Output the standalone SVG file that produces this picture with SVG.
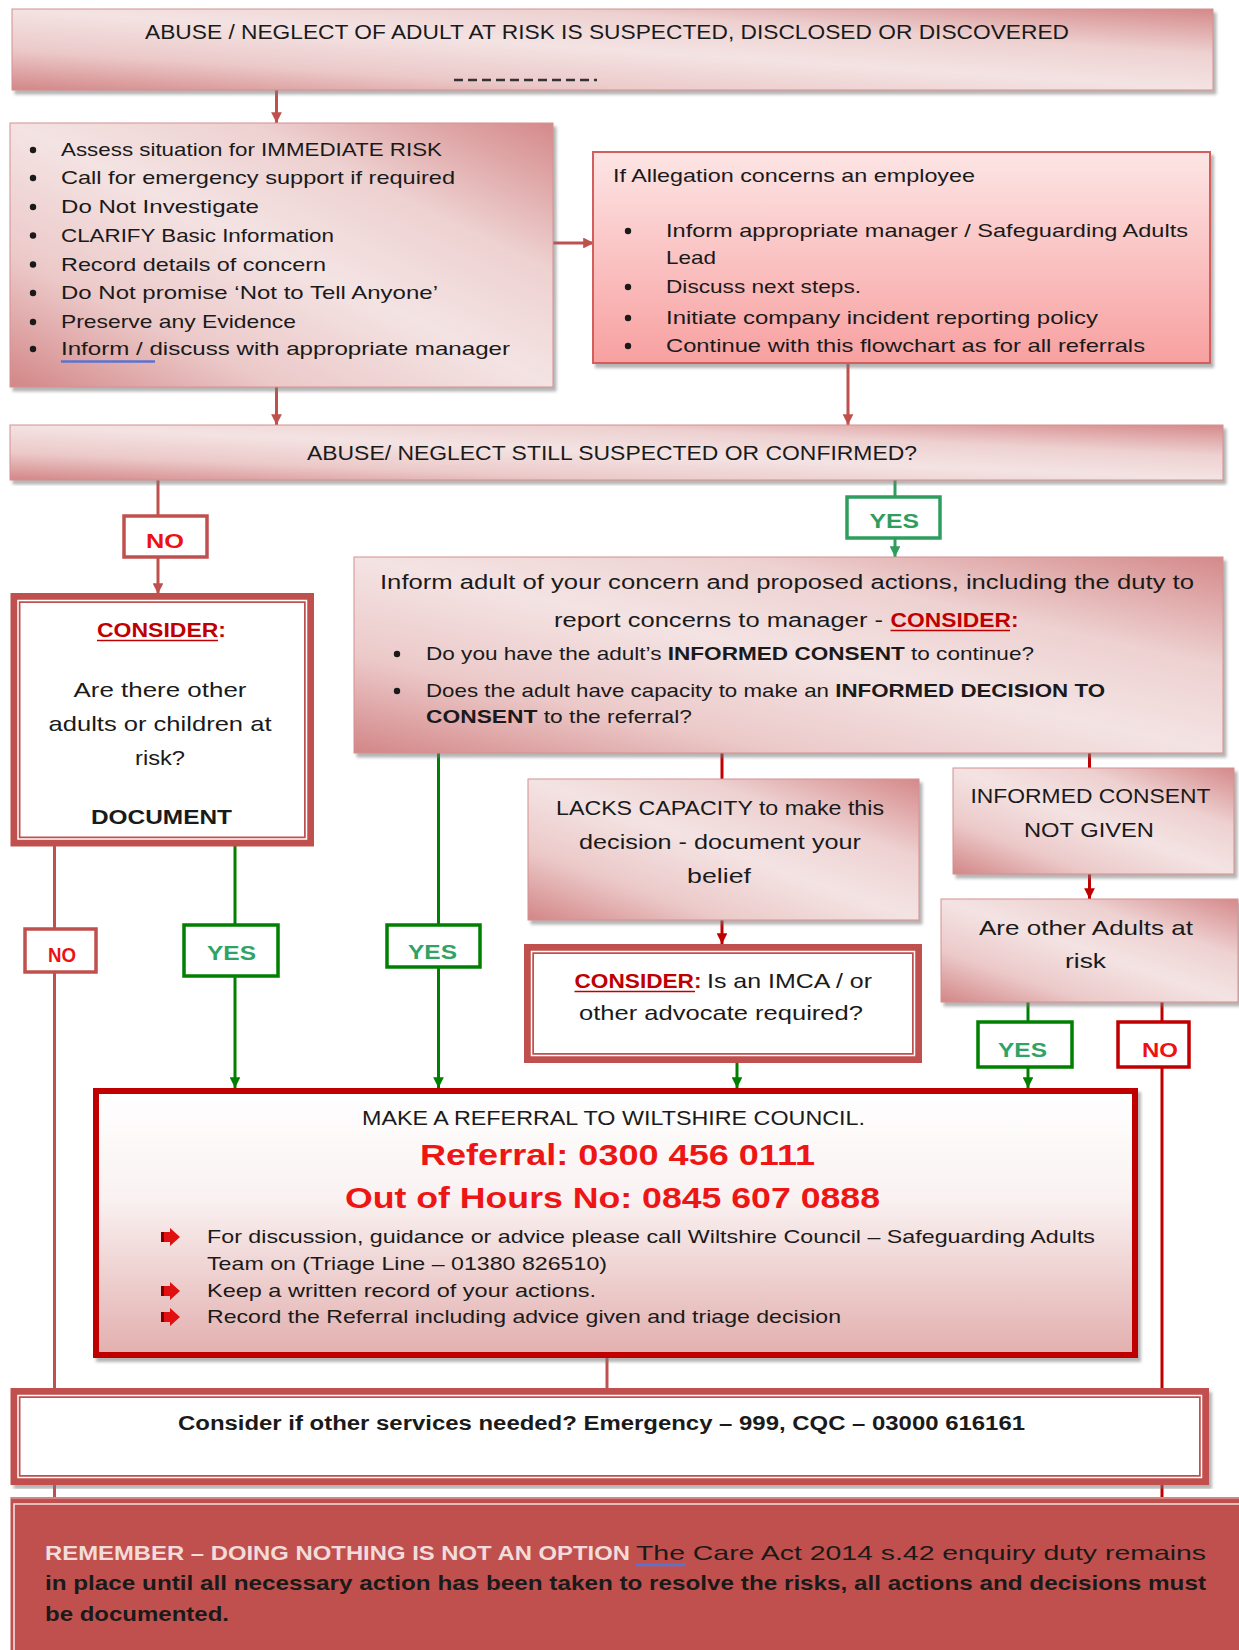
<svg xmlns="http://www.w3.org/2000/svg" width="1239" height="1650" viewBox="0 0 1239 1650">
<style>
.t{font-family:"Liberation Sans",Arial,sans-serif;fill:#1a1a1a}
.b{font-weight:bold}
.red{fill:#c00000}
.lbl{font-family:"Liberation Sans",Arial,sans-serif;font-weight:bold;font-size:20px}
.yes{fill:#2fa365}
.no{fill:#ee1111}
.pink{fill:url(#gPink);stroke:#d49090;stroke-width:1}
.c1{fill:none;stroke:#c0504d;stroke-width:3}
.c2{fill:none;stroke:#c00000;stroke-width:3}
.cg{fill:none;stroke:#008000;stroke-width:3}
.ct{fill:none;stroke:#2e9e5e;stroke-width:3}
.dbl{fill:#fff;stroke:#c0504d;stroke-width:10}
.dblin{fill:none;stroke:#fff;stroke-width:1.5}
.ul{stroke:#c00000;stroke-width:1.6}
</style>
<defs>
<linearGradient id="gPink" x1="1" y1="0" x2="0" y2="1">
<stop offset="0" stop-color="#d5898a"/>
<stop offset="0.28" stop-color="#eed1d1"/>
<stop offset="0.5" stop-color="#f4e3e3"/>
<stop offset="0.75" stop-color="#ecc9c9"/>
<stop offset="1" stop-color="#d38687"/>
</linearGradient>
<linearGradient id="gBox3" x1="0" y1="0" x2="0" y2="1">
<stop offset="0" stop-color="#fde5e5"/>
<stop offset="1" stop-color="#f8a0a0"/>
</linearGradient>
<linearGradient id="gRef" x1="0" y1="0" x2="0" y2="1">
<stop offset="0" stop-color="#ffffff"/>
<stop offset="0.4" stop-color="#faf2f2"/>
<stop offset="1" stop-color="#e2afae"/>
</linearGradient>
<filter id="sh" x="-3%" y="-5%" width="106%" height="115%">
<feDropShadow dx="3" dy="4" stdDeviation="1.5" flood-color="#777" flood-opacity="0.55"/>
</filter>
<marker id="a1" viewBox="0 0 10 10" refX="10" refY="5" markerWidth="3.6" markerHeight="3.6" orient="auto"><path d="M0,0 L10,5 L0,10 z" fill="#c0504d"/></marker>
<marker id="a2" viewBox="0 0 10 10" refX="10" refY="5" markerWidth="3.6" markerHeight="3.6" orient="auto"><path d="M0,0 L10,5 L0,10 z" fill="#c00000"/></marker>
<marker id="ag" viewBox="0 0 10 10" refX="10" refY="5" markerWidth="3.6" markerHeight="3.6" orient="auto"><path d="M0,0 L10,5 L0,10 z" fill="#008000"/></marker>
<marker id="at" viewBox="0 0 10 10" refX="10" refY="5" markerWidth="3.6" markerHeight="3.6" orient="auto"><path d="M0,0 L10,5 L0,10 z" fill="#2e9e5e"/></marker>
</defs>
<rect width="1239" height="1650" fill="#fff"/>

<g id="connectors">
<path class="c1" d="M276.5,90 V123" marker-end="url(#a1)"/>
<path class="c1" d="M553,243 H594" marker-end="url(#a1)"/>
<path class="c1" d="M276.5,387 V425" marker-end="url(#a1)"/>
<path class="c1" d="M848,363 V425" marker-end="url(#a1)"/>
<path class="c1" d="M158,480 V516"/>
<path class="c1" d="M158,557 V594" marker-end="url(#a1)"/>
<path class="c1" d="M54.5,846 V929"/>
<path class="c1" d="M54.5,972 V1388"/>
<path class="c1" d="M54.5,1485 V1512"/>
<path class="c1" d="M607,1358 V1388"/>
<path class="ct" d="M895,480 V497"/>
<path class="ct" d="M895,538 V557" marker-end="url(#at)"/>
<path class="cg" d="M235,846 V925"/>
<path class="cg" d="M235,976 V1088" marker-end="url(#ag)"/>
<path class="cg" d="M438.5,753 V925"/>
<path class="cg" d="M438.5,967 V1088" marker-end="url(#ag)"/>
<path class="cg" d="M737,1063 V1088" marker-end="url(#ag)"/>
<path class="cg" d="M1028,1002 V1022"/>
<path class="cg" d="M1028,1067 V1088" marker-end="url(#ag)"/>
<path class="c2" d="M722,753 V779"/>
<path class="c2" d="M722,920 V944" marker-end="url(#a2)"/>
<path class="c2" d="M1089.5,753 V768"/>
<path class="c2" d="M1089.5,874 V899" marker-end="url(#a2)"/>
<path class="c2" d="M1162,993 V1022"/>
<path class="c2" d="M1162,1067 V1388"/>
<path class="c2" d="M1162,1485 V1512"/>
</g>

<g id="n-top">
<rect class="pink" x="12" y="9" width="1201" height="81" filter="url(#sh)"/>
<text class="t" x="145" y="39" font-size="20" textLength="924" lengthAdjust="spacingAndGlyphs">ABUSE / NEGLECT OF ADULT AT RISK IS SUSPECTED, DISCLOSED OR DISCOVERED</text>
<line x1="454" y1="80" x2="597" y2="80" stroke="#333" stroke-width="2.5" stroke-dasharray="9,5"/>
</g>

<g id="n-immediate">
<rect class="pink" x="10" y="123" width="543" height="264" filter="url(#sh)"/>
<g fill="#1a1a1a">
<circle cx="33" cy="150" r="3.2"/><circle cx="33" cy="178" r="3.2"/><circle cx="33" cy="207" r="3.2"/><circle cx="33" cy="235.5" r="3.2"/>
<circle cx="33" cy="264.5" r="3.2"/><circle cx="33" cy="293" r="3.2"/><circle cx="33" cy="322" r="3.2"/><circle cx="33" cy="349" r="3.2"/>
</g>
<g class="t" font-size="18.5">
<text x="61" y="156" textLength="381" lengthAdjust="spacingAndGlyphs">Assess situation for IMMEDIATE RISK</text>
<text x="61" y="184" textLength="394" lengthAdjust="spacingAndGlyphs">Call for emergency support if required</text>
<text x="61" y="213" textLength="198" lengthAdjust="spacingAndGlyphs">Do Not Investigate</text>
<text x="61" y="241.5" textLength="273" lengthAdjust="spacingAndGlyphs">CLARIFY Basic Information</text>
<text x="61" y="270.5" textLength="265" lengthAdjust="spacingAndGlyphs">Record details of concern</text>
<text x="61" y="299" textLength="377" lengthAdjust="spacingAndGlyphs">Do Not promise ‘Not to Tell Anyone’</text>
<text x="61" y="328" textLength="235" lengthAdjust="spacingAndGlyphs">Preserve any Evidence</text>
<text x="61" y="355" textLength="449" lengthAdjust="spacingAndGlyphs">Inform  / discuss with appropriate manager</text>
</g>
<line x1="61" y1="361.5" x2="155" y2="361.5" stroke="#5b73cf" stroke-width="2.5"/>
</g>

<g id="n-employee">
<rect x="593" y="152" width="617" height="211" fill="url(#gBox3)" stroke="#d35f5d" stroke-width="2" filter="url(#sh)"/>
<g fill="#1a1a1a">
<circle cx="628" cy="231" r="3.2"/><circle cx="628" cy="287" r="3.2"/><circle cx="628" cy="318" r="3.2"/><circle cx="628" cy="346" r="3.2"/>
</g>
<g class="t" font-size="18.5">
<text x="613" y="181.5" textLength="362" lengthAdjust="spacingAndGlyphs">If Allegation concerns an employee</text>
<text x="666" y="237" textLength="522" lengthAdjust="spacingAndGlyphs">Inform appropriate manager / Safeguarding Adults</text>
<text x="666" y="264" textLength="50" lengthAdjust="spacingAndGlyphs">Lead</text>
<text x="666" y="293" textLength="195" lengthAdjust="spacingAndGlyphs">Discuss next steps.</text>
<text x="666" y="324" textLength="432" lengthAdjust="spacingAndGlyphs">Initiate company incident reporting policy</text>
<text x="666" y="352" textLength="479" lengthAdjust="spacingAndGlyphs">Continue with this flowchart as for all referrals</text>
</g>
</g>

<g id="n-still">
<rect class="pink" x="10" y="425" width="1213" height="55" filter="url(#sh)"/>
<text class="t" x="307" y="460" font-size="20" textLength="610" lengthAdjust="spacingAndGlyphs">ABUSE/ NEGLECT STILL SUSPECTED OR CONFIRMED?</text>
</g>

<g id="l-no-top">
<rect x="124" y="516" width="83" height="41" fill="#fff" stroke="#c0504d" stroke-width="3.5"/>
<text class="lbl no" x="146" y="548" textLength="38" lengthAdjust="spacingAndGlyphs">NO</text>
</g>
<g id="l-yes-top">
<rect x="847" y="497" width="93" height="41" fill="#fff" stroke="#2e9e5e" stroke-width="3.5"/>
<text class="lbl" fill="#2e9e5e" x="869.5" y="528" textLength="49.5" lengthAdjust="spacingAndGlyphs">YES</text>
</g>

<g id="n-consider-left">
<rect class="dbl" x="15.5" y="598" width="293.5" height="243.5"/>
<rect class="dblin" x="18" y="600.5" width="288.5" height="238.5"/>
<text class="t b red" x="97" y="637" font-size="21" textLength="129" lengthAdjust="spacingAndGlyphs">CONSIDER:</text>
<line class="ul" x1="97" y1="640.5" x2="218" y2="640.5"/>
<g class="t" font-size="21">
<text x="73.5" y="697" textLength="173" lengthAdjust="spacingAndGlyphs">Are there other</text>
<text x="48.5" y="731" textLength="223" lengthAdjust="spacingAndGlyphs">adults or children at</text>
<text x="135" y="765" textLength="50" lengthAdjust="spacingAndGlyphs">risk?</text>
<text class="b" x="91" y="824" textLength="141" lengthAdjust="spacingAndGlyphs">DOCUMENT</text>
</g>
</g>

<g id="n-inform-adult">
<rect class="pink" x="354" y="557" width="869" height="196" filter="url(#sh)"/>
<g class="t" font-size="20">
<text x="380" y="589" textLength="814" lengthAdjust="spacingAndGlyphs">Inform adult of your concern  and proposed actions, including the duty to</text>
<text x="554" y="627" textLength="329" lengthAdjust="spacingAndGlyphs">report concerns to manager -</text>
<text class="b red" x="890.5" y="627" textLength="128" lengthAdjust="spacingAndGlyphs">CONSIDER:</text>
</g>
<line class="ul" x1="890.5" y1="630.5" x2="1010" y2="630.5"/>
<g fill="#1a1a1a"><circle cx="397" cy="654" r="3.2"/><circle cx="397" cy="691" r="3.2"/></g>
<g class="t" font-size="19">
<text x="426" y="660" textLength="608" lengthAdjust="spacingAndGlyphs">Do you have the adult’s <tspan class="b">INFORMED CONSENT</tspan> to continue?</text>
<text x="426" y="697" textLength="679" lengthAdjust="spacingAndGlyphs">Does the adult have capacity to make an <tspan class="b">INFORMED DECISION TO</tspan></text>
<text x="426" y="723" textLength="266" lengthAdjust="spacingAndGlyphs"><tspan class="b">CONSENT</tspan> to the referral?</text>
</g>
</g>

<g id="n-lacks">
<rect class="pink" x="528" y="779" width="391" height="141" filter="url(#sh)"/>
<g class="t" font-size="21">
<text x="556" y="815" textLength="328" lengthAdjust="spacingAndGlyphs">LACKS CAPACITY to make this</text>
<text x="579" y="849" textLength="282" lengthAdjust="spacingAndGlyphs">decision - document your</text>
<text x="687" y="883" textLength="64" lengthAdjust="spacingAndGlyphs">belief</text>
</g>
</g>

<g id="n-imca">
<rect class="dbl" x="529" y="949" width="388" height="109"/>
<rect class="dblin" x="531.5" y="951.5" width="383" height="104"/>
<g class="t" font-size="21">
<text class="b red" x="574.5" y="988" textLength="127" lengthAdjust="spacingAndGlyphs">CONSIDER:</text>
<text x="707" y="988" textLength="165" lengthAdjust="spacingAndGlyphs">Is an IMCA / or</text>
<text x="579" y="1020" textLength="284" lengthAdjust="spacingAndGlyphs">other advocate required?</text>
</g>
<line class="ul" x1="574.5" y1="991.5" x2="695" y2="991.5"/>
</g>

<g id="n-consent-not-given">
<rect class="pink" x="953" y="768" width="281" height="106" filter="url(#sh)"/>
<g class="t" font-size="21">
<text x="970.5" y="803" textLength="240" lengthAdjust="spacingAndGlyphs">INFORMED CONSENT</text>
<text x="1024" y="837" textLength="130" lengthAdjust="spacingAndGlyphs">NOT GIVEN</text>
</g>
</g>

<g id="n-other-adults">
<rect class="pink" x="941" y="899" width="297" height="103" filter="url(#sh)"/>
<g class="t" font-size="21">
<text x="979" y="935" textLength="214" lengthAdjust="spacingAndGlyphs">Are other Adults at</text>
<text x="1065" y="968" textLength="41" lengthAdjust="spacingAndGlyphs">risk</text>
</g>
</g>

<g id="l-no-left">
<rect x="25" y="929" width="71" height="43" fill="#fff" stroke="#c0504d" stroke-width="3.5"/>
<text class="lbl no" x="48" y="962" textLength="28" lengthAdjust="spacingAndGlyphs">NO</text>
</g>
<g id="l-yes-1">
<rect x="184" y="925" width="94" height="51" fill="#fff" stroke="#008000" stroke-width="3.5"/>
<text class="lbl yes" x="207" y="960" textLength="49" lengthAdjust="spacingAndGlyphs">YES</text>
</g>
<g id="l-yes-2">
<rect x="387" y="925" width="93" height="42" fill="#fff" stroke="#008000" stroke-width="3.5"/>
<text class="lbl yes" x="408" y="959" textLength="49" lengthAdjust="spacingAndGlyphs">YES</text>
</g>
<g id="l-yes-3">
<rect x="978" y="1022" width="94" height="45" fill="#fff" stroke="#008000" stroke-width="3.5"/>
<text class="lbl yes" x="998" y="1056.5" textLength="49" lengthAdjust="spacingAndGlyphs">YES</text>
</g>
<g id="l-no-right">
<rect x="1118" y="1022" width="71" height="45" fill="#fff" stroke="#c00000" stroke-width="3.5"/>
<text class="lbl no" x="1142" y="1056.5" textLength="36" lengthAdjust="spacingAndGlyphs">NO</text>
</g>

<g id="n-referral">
<rect x="96" y="1091" width="1039" height="264" fill="url(#gRef)" stroke="#c00000" stroke-width="6" filter="url(#sh)"/>
<text class="t" x="362" y="1125" font-size="20" textLength="503" lengthAdjust="spacingAndGlyphs">MAKE A REFERRAL TO WILTSHIRE COUNCIL.</text>
<text class="t b" fill="#ee1515" style="fill:#ee1515" x="420" y="1165" font-size="29" textLength="395" lengthAdjust="spacingAndGlyphs">Referral: 0300 456 0111</text>
<text class="t b" style="fill:#ee1515" x="345" y="1208" font-size="29" textLength="535" lengthAdjust="spacingAndGlyphs">Out of Hours No: 0845 607 0888</text>
<g fill="#e01010">
<path d="M161,1232 H170 V1228 L180,1237 L170,1246 V1242 H161 Z"/>
<path d="M161,1286 H170 V1282 L180,1291 L170,1300 V1296 H161 Z"/>
<path d="M161,1312 H170 V1308 L180,1317 L170,1326 V1322 H161 Z"/>
</g>
<g fill="#7a0000">
<rect x="161" y="1232" width="3" height="10"/><rect x="161" y="1286" width="3" height="10"/><rect x="161" y="1312" width="3" height="10"/>
</g>
<g class="t" font-size="18.5">
<text x="207" y="1243" textLength="888" lengthAdjust="spacingAndGlyphs">For discussion, guidance or advice please call Wiltshire Council – Safeguarding Adults</text>
<text x="207" y="1270" textLength="400" lengthAdjust="spacingAndGlyphs">Team on (Triage Line – 01380 826510)</text>
<text x="207" y="1297" textLength="389" lengthAdjust="spacingAndGlyphs">Keep a written record of your actions.</text>
<text x="207" y="1323" textLength="634" lengthAdjust="spacingAndGlyphs">Record the Referral including advice given and triage decision</text>
</g>
</g>

<g id="n-services">
<rect class="dbl" x="15.5" y="1393" width="1188.5" height="87" filter="url(#sh)"/>
<rect class="dblin" x="18" y="1395.5" width="1183.5" height="82"/>
<text class="t b" x="178" y="1430" font-size="20" textLength="847" lengthAdjust="spacingAndGlyphs">Consider  if other services needed?  Emergency – 999, CQC – 03000 616161</text>
</g>

<g id="n-remember">
<rect x="10.5" y="1497" width="1240" height="160" fill="#c0504d"/>
<path d="M14,1655 V1504 H1245" fill="none" stroke="#f3dede" stroke-width="1.6"/>
<line x1="10.5" y1="1498" x2="1245" y2="1498" stroke="#e8bcbc" stroke-width="1"/>
<text class="t b" style="fill:#f2dcdb" x="45" y="1560" font-size="21" textLength="585" lengthAdjust="spacingAndGlyphs">REMEMBER – DOING NOTHING IS NOT AN OPTION</text>
<text class="t" x="636" y="1560" font-size="21" textLength="570" lengthAdjust="spacingAndGlyphs">The Care Act 2014 s.42 enquiry duty remains</text>
<line x1="636" y1="1565" x2="686" y2="1565" stroke="#5b73cf" stroke-width="2.5"/>
<text class="t b" x="45" y="1590" font-size="21" textLength="1161" lengthAdjust="spacingAndGlyphs">in place until  all necessary action has been taken to  resolve the risks, all actions and decisions must</text>
<text class="t b" x="45" y="1621" font-size="21" textLength="184" lengthAdjust="spacingAndGlyphs">be documented.</text>
</g>
</svg>
